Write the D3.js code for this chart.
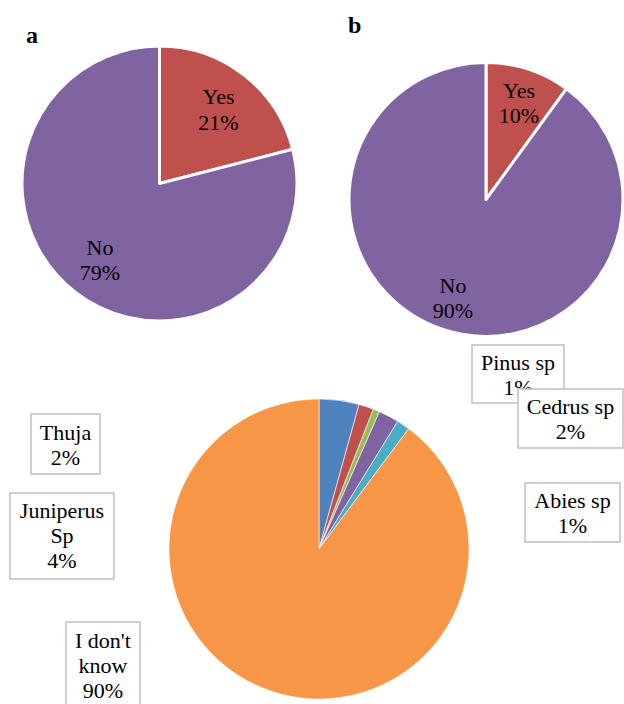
<!DOCTYPE html>
<html>
<head>
<meta charset="utf-8">
<script src="https://cdn.jsdelivr.net/npm/d3@7"></script>
<style>
  html, body { margin: 0; padding: 0; background: #fff; }
  svg { display: block; }
</style>
</head>
<body>
<svg id="chart" width="624" height="704"></svg>
<script>
// ---- data ----
const categoriesA = ["Yes", "No"];
const valuesA = [21, 79];
const categoriesB = ["Yes", "No"];
const valuesB = [10, 90];
const categoriesC = ["Juniperus Sp", "Thuja", "Pinus sp", "Cedrus sp", "Abies sp", "I don't know"];
const valuesC = [4.3, 1.6, 0.7, 2.2, 1.4, 89.8];
const percentLabelsC = ["4%", "2%", "1%", "2%", "1%", "90%"];

// ---- styles / layout ----
const FONT = "'Liberation Serif', 'Times New Roman', Times, serif";
const colorsAB = ["#C0504D", "#8064A2"];
const colorsC = ["#4F81BD", "#C0504D", "#9BBB59", "#8064A2", "#4BACC6", "#F79646"];
const svg = d3.select("#chart");

function drawPie(cx, cy, r, values, colors, strokeW) {
  const pie = d3.pie().sort(null).value(d => d);
  const arc = d3.arc().innerRadius(0).outerRadius(r);
  const g = svg.append("g").attr("transform", `translate(${cx},${cy})`);
  g.selectAll("path").data(pie(values)).enter().append("path")
    .attr("d", arc)
    .attr("fill", (d, i) => colors[i])
    .attr("stroke", "#fff")
    .attr("stroke-width", strokeW)
    .attr("stroke-linejoin", "round");
  return g;
}

function multiLine(x, y, lines, lh) {
  const t = svg.append("text").attr("x", x).attr("y", y)
    .attr("font-family", FONT)
    .attr("text-anchor", "middle").attr("font-size", 22).attr("fill", "#000");
  lines.forEach((l, i) => t.append("tspan").attr("x", x).attr("dy", i === 0 ? 0 : lh).text(l));
}

// Pie a
drawPie(159.5, 183.5, 137.5, valuesA, colorsAB, 3);
multiLine(218.5, 104, [categoriesA[0], valuesA[0] + "%"], 26);
multiLine(100, 255, [categoriesA[1], valuesA[1] + "%"], 25);
svg.append("text").attr("x", 26).attr("y", 43).attr("font-family", FONT)
  .attr("font-size", 24).attr("font-weight", "bold").text("a");

// Pie b
drawPie(486, 199.5, 137, valuesB, colorsAB, 3);
multiLine(519, 98, [categoriesB[0], valuesB[0] + "%"], 25);
multiLine(453, 293, [categoriesB[1], valuesB[1] + "%"], 25);
svg.append("text").attr("x", 348).attr("y", 33).attr("font-family", FONT)
  .attr("font-size", 24).attr("font-weight", "bold").text("b");

// Pie c
drawPie(319, 549, 150, valuesC, colorsC, 0.6);

const boxesC = [
  { i: 1, x0: 31, y0: 414, x1: 100, y1: 474, lines: ["Thuja"], base: 440 },
  { i: 0, x0: 10, y0: 493, x1: 114, y1: 579, lines: ["Juniperus", "Sp"], base: 518 },
  { i: 5, x0: 66, y0: 622, x1: 140, y1: 712, lines: ["I don't", "know"], base: 648 },
  { i: 2, x0: 472, y0: 345, x1: 564, y1: 403, lines: ["Pinus sp"], base: 370 },
  { i: 3, x0: 518, y0: 389, x1: 623, y1: 448, lines: ["Cedrus sp"], base: 414 },
  { i: 4, x0: 525, y0: 483, x1: 620, y1: 542, lines: ["Abies sp"], base: 508 }
];
boxesC.forEach(b => {
  svg.append("rect").attr("x", b.x0).attr("y", b.y0)
    .attr("width", b.x1 - b.x0).attr("height", b.y1 - b.y0)
    .attr("fill", "#fff").attr("stroke", "#BFBFBF").attr("stroke-width", 1.5);
  multiLine((b.x0 + b.x1) / 2, b.base, b.lines.concat([percentLabelsC[b.i]]), 25);
});
</script>
</body>
</html>
